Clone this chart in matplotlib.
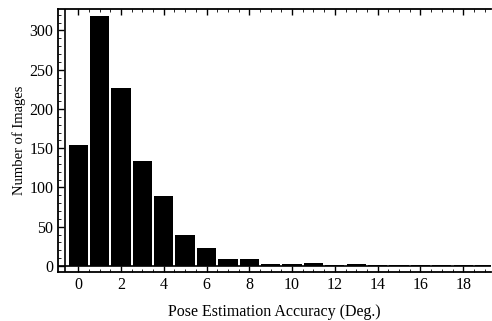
import numpy as np
import matplotlib.pyplot as plt

# DATA
accuracy_deg = list(range(20))
num_images = [154, 319, 227, 134, 89, 40, 23, 9, 9, 3, 2, 4, 1, 2, 1, 1, 1, 1, 1, 1]
x_ticks = [0, 2, 4, 6, 8, 10, 12, 14, 16, 18]
y_ticks = [0, 50, 100, 150, 200, 250, 300]

plt.rcParams['font.family'] = ['Liberation Serif', 'DejaVu Serif']

fig = plt.figure(figsize=(4.92, 3.21), dpi=100)
ax = fig.add_axes([0.118, 0.153, 0.880, 0.818])

ax.bar(accuracy_deg, num_images, width=0.9, color='black')
ax.axhline(0, color='black', lw=1.2)
ax.axvline(-0.6, color='black', lw=1.2)

ax.set_xlim(-0.94, 19.3)
ax.set_ylim(-7.6, 327)
ax.set_xticks(x_ticks)
ax.set_yticks(y_ticks)
ax.set_xticks(np.arange(0, 19.5, 0.5), minor=True)
ax.set_yticks(np.arange(0, 330, 10), minor=True)
ax.tick_params(direction='in', length=4, width=1, labelsize=11.5)
ax.tick_params(which='minor', direction='in', length=2, width=0.6)
ax.tick_params(top=True, right=False, which='both')
ax.spines['right'].set_visible(False)
for s in ax.spines.values():
    s.set_linewidth(1.3)

ax.set_xlabel("Pose Estimation Accuracy (Deg.)", fontsize=11.5, labelpad=8)
ax.set_ylabel("Number of Images", fontsize=10.5, labelpad=2)

fig.savefig("out.png", dpi=100)
